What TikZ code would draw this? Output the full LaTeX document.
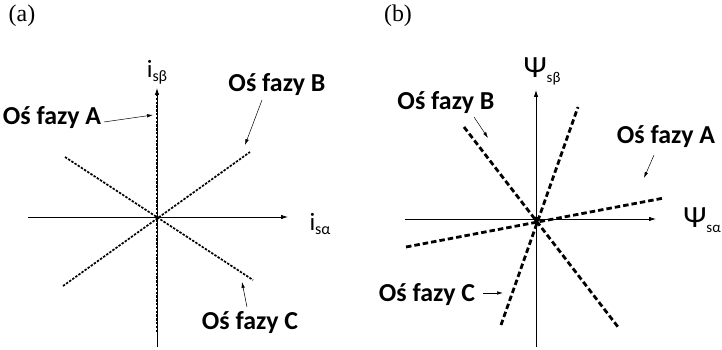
\documentclass[tikz,border=0pt]{standalone}
\usepackage{fontspec}
\setmainfont{Liberation Serif}
\newfontfamily\calib{Carlito}
\usetikzlibrary{arrows.meta}

\begin{document}
\begin{tikzpicture}[
    axis/.style={line width=0.8bp,-{Latex[length=7bp,width=4.5bp]}},
    fineaxis/.style={line width=1.7bp,dash pattern=on 2.4bp off 1.4bp},
    boldaxis/.style={line width=2.8bp,dash pattern=on 5.5bp off 3bp},
    pointer/.style={line width=0.5bp,-{Latex[length=6bp,width=3.5bp]}},
    phase/.style={font=\calib\bfseries\fontsize{26}{28}\selectfont,inner sep=0pt},
    axlabel/.style={font=\calib\fontsize{25}{27}\selectfont,inner sep=0pt}]
  \useasboundingbox (0bp,0bp) rectangle (722bp,350bp);
  %% (a)
  \node (TagA) at (22bp,334bp) {\fontsize{24}{26}\selectfont(a)};
  \coordinate (OrgA) at (157bp,133bp);
  \coordinate (XaW) at (28bp,133bp);
  \coordinate (XaE) at (288bp,133bp);
  \coordinate (YaS) at (157bp,3bp);
  \coordinate (YaN) at (157bp,262bp);
  \coordinate (PhA1) at (157bp,18bp);
  \coordinate (PhA2) at (157bp,255bp);
  \coordinate (PhB1) at (63bp,64bp);
  \coordinate (PhB2) at (250bp,198bp);
  \coordinate (PhC1) at (65bp,193bp);
  \coordinate (PhC2) at (253bp,70bp);
  \draw [axis] (XaW) -- (XaE);
  \draw [axis] (YaS) -- (YaN);
  \draw [fineaxis] (PhA1) -- (PhA2);
  \draw [fineaxis] (PhB1) -- (PhB2);
  \draw [fineaxis] (PhC1) -- (PhC2);
  \fill (OrgA) circle (1.8bp);
  \node (IsBeta) at (157bp,278bp) [axlabel] {i\raisebox{-4bp}{\fontsize{16}{17}\selectfont sβ}};
  \node (IsAlpha) at (320bp,126bp) [axlabel] {i\raisebox{-4bp}{\fontsize{16}{17}\selectfont sα}};
  \node (OsA) at (52bp,232bp) [phase] {Oś fazy A};
  \node (OsB) at (277bp,265bp) [phase] {Oś fazy B};
  \node (OsC) at (250bp,27bp) [phase] {Oś fazy C};
  \coordinate (PtA1) at (104bp,228bp);
  \coordinate (PtA2) at (153bp,235bp);
  \coordinate (PtB1) at (262bp,250bp);
  \coordinate (PtB2) at (245bp,205bp);
  \coordinate (PtC1) at (247bp,43bp);
  \coordinate (PtC2) at (242bp,68bp);
  \draw [pointer] (PtA1) -- (PtA2);
  \draw [pointer] (PtB1) -- (PtB2);
  \draw [pointer] (PtC1) -- (PtC2);
  %% (b)
  \node (TagB) at (398bp,334bp) {\fontsize{24}{26}\selectfont(b)};
  \coordinate (OrgB) at (536bp,131bp);
  \coordinate (XbW) at (405bp,131bp);
  \coordinate (XbE) at (656bp,131bp);
  \coordinate (YbS) at (536bp,3bp);
  \coordinate (YbN) at (536bp,260bp);
  \coordinate (PsA1) at (406bp,103bp);
  \coordinate (PsA2) at (664bp,152bp);
  \coordinate (PsS1) at (501bp,25bp);
  \coordinate (PsS2) at (578bp,243bp);
  \coordinate (PsB1) at (464bp,223bp);
  \coordinate (PsB2) at (618bp,23bp);
  \draw [axis] (XbW) -- (XbE);
  \draw [axis] (YbS) -- (YbN);
  \draw [boldaxis] (PsA1) -- (PsA2);
  \draw [boldaxis] (PsS1) -- (PsS2);
  \draw [boldaxis] (PsB1) -- (PsB2);
  \fill (OrgB) circle (2.4bp);
  \node (PsiBeta) at (542bp,279bp) [axlabel] {\fontsize{31}{33}\selectfont Ψ\raisebox{-5bp}{\fontsize{15}{16}\selectfont sβ}};
  \node (PsiAlpha) at (702bp,130bp) [axlabel] {\fontsize{31}{33}\selectfont Ψ\raisebox{-5bp}{\fontsize{15}{16}\selectfont sα}};
  \node (OsBb) at (446bp,247bp) [phase] {Oś fazy B};
  \node (OsAb) at (666bp,213bp) [phase] {Oś fazy A};
  \node (OsCb) at (427bp,55bp) [phase] {Oś fazy C};
  \coordinate (QtB1) at (474bp,233bp);
  \coordinate (QtB2) at (488bp,212bp);
  \coordinate (QtA1) at (654bp,195bp);
  \coordinate (QtA2) at (644bp,172bp);
  \coordinate (QtC1) at (483bp,57bp);
  \coordinate (QtC2) at (503bp,57bp);
  \draw [pointer] (QtB1) -- (QtB2);
  \draw [pointer] (QtA1) -- (QtA2);
  \draw [pointer] (QtC1) -- (QtC2);
\end{tikzpicture}
\end{document}
